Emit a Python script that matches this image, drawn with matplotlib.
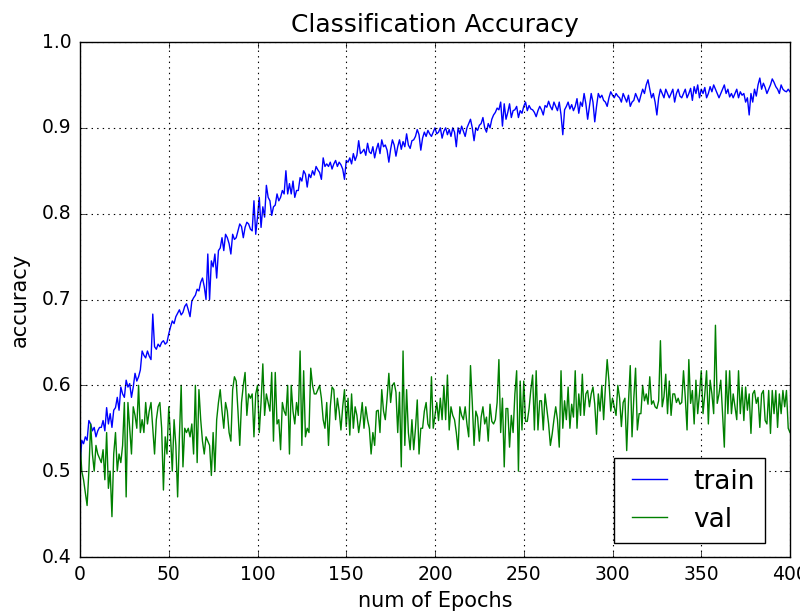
import matplotlib
matplotlib.use("Agg")
import matplotlib.pyplot as plt

# per-epoch accuracy (epochs 0..400)
train_acc = [
    0.505, 0.536, 0.532, 0.54, 0.536, 0.559, 0.555, 0.547, 0.551, 0.54, 0.547, 0.551, 0.551, 0.559, 0.547, 0.574, 0.555, 0.567, 0.551, 0.571,
    0.574, 0.586, 0.571, 0.598, 0.59, 0.586, 0.606, 0.598, 0.602, 0.586, 0.598, 0.614, 0.605, 0.61, 0.618, 0.64, 0.635, 0.632, 0.64, 0.634,
    0.63, 0.683, 0.645, 0.642, 0.648, 0.645, 0.65, 0.652, 0.648, 0.65, 0.66, 0.668, 0.675, 0.672, 0.68, 0.684, 0.688, 0.682, 0.685, 0.692,
    0.695, 0.688, 0.68, 0.698, 0.702, 0.705, 0.712, 0.71, 0.72, 0.725, 0.715, 0.7, 0.753, 0.7, 0.745, 0.738, 0.753, 0.725, 0.757, 0.76,
    0.772, 0.757, 0.776, 0.772, 0.765, 0.753, 0.776, 0.77, 0.772, 0.78, 0.788, 0.785, 0.772, 0.784, 0.79, 0.788, 0.782, 0.78, 0.815, 0.776,
    0.796, 0.819, 0.784, 0.808, 0.796, 0.833, 0.819, 0.815, 0.798, 0.808, 0.81, 0.823, 0.815, 0.819, 0.827, 0.823, 0.85, 0.823, 0.835, 0.823,
    0.838, 0.819, 0.827, 0.827, 0.842, 0.838, 0.85, 0.846, 0.831, 0.846, 0.842, 0.85, 0.845, 0.855, 0.851, 0.848, 0.84, 0.865, 0.855, 0.858,
    0.855, 0.86, 0.852, 0.858, 0.862, 0.855, 0.86, 0.857, 0.852, 0.84, 0.862, 0.86, 0.865, 0.858, 0.87, 0.862, 0.868, 0.885, 0.87, 0.872,
    0.875, 0.868, 0.882, 0.872, 0.87, 0.878, 0.865, 0.875, 0.882, 0.87, 0.886, 0.878, 0.88, 0.874, 0.86, 0.875, 0.886, 0.88, 0.867, 0.878,
    0.886, 0.875, 0.884, 0.878, 0.893, 0.88, 0.876, 0.885, 0.886, 0.89, 0.898, 0.892, 0.874, 0.888, 0.895, 0.89, 0.897, 0.893, 0.89, 0.895,
    0.9, 0.893, 0.895, 0.9, 0.888, 0.896, 0.9, 0.892, 0.898, 0.89, 0.9, 0.895, 0.878, 0.9, 0.893, 0.902, 0.896, 0.89, 0.9, 0.905,
    0.91, 0.9, 0.885, 0.9, 0.897, 0.903, 0.905, 0.912, 0.9, 0.895, 0.905, 0.9, 0.91, 0.915, 0.918, 0.923, 0.921, 0.93, 0.902, 0.928,
    0.91, 0.918, 0.928, 0.912, 0.92, 0.921, 0.925, 0.912, 0.92, 0.917, 0.925, 0.93, 0.92, 0.926, 0.922, 0.921, 0.918, 0.913, 0.92, 0.925,
    0.921, 0.915, 0.926, 0.924, 0.931, 0.925, 0.921, 0.93, 0.925, 0.92, 0.93, 0.915, 0.892, 0.921, 0.925, 0.93, 0.922, 0.927, 0.92, 0.925,
    0.934, 0.917, 0.93, 0.925, 0.94, 0.928, 0.91, 0.925, 0.94, 0.93, 0.907, 0.925, 0.94, 0.935, 0.938, 0.932, 0.93, 0.925, 0.935, 0.942,
    0.938, 0.935, 0.94, 0.937, 0.935, 0.93, 0.94, 0.935, 0.93, 0.938, 0.925, 0.93, 0.932, 0.94, 0.935, 0.93, 0.938, 0.945, 0.94, 0.95,
    0.956, 0.945, 0.935, 0.94, 0.93, 0.915, 0.935, 0.945, 0.94, 0.935, 0.945, 0.94, 0.935, 0.94, 0.945, 0.93, 0.94, 0.945, 0.937, 0.935,
    0.94, 0.945, 0.935, 0.94, 0.946, 0.932, 0.948, 0.94, 0.95, 0.935, 0.945, 0.94, 0.947, 0.935, 0.94, 0.948, 0.942, 0.95, 0.945, 0.94,
    0.935, 0.94, 0.945, 0.95, 0.94, 0.945, 0.936, 0.94, 0.935, 0.94, 0.945, 0.935, 0.942, 0.938, 0.94, 0.93, 0.935, 0.915, 0.94, 0.93,
    0.945, 0.937, 0.95, 0.958, 0.945, 0.952, 0.947, 0.94, 0.945, 0.95, 0.957, 0.953, 0.948, 0.945, 0.94, 0.95, 0.945, 0.943, 0.942, 0.945,
    0.942,
]
val_acc = [
    0.535, 0.5, 0.49, 0.475, 0.46, 0.5, 0.555, 0.52, 0.5, 0.53, 0.52, 0.515, 0.51, 0.525, 0.49, 0.545, 0.48, 0.5, 0.447, 0.52,
    0.545, 0.5, 0.52, 0.51, 0.53, 0.58, 0.47, 0.58, 0.55, 0.52, 0.575, 0.565, 0.55, 0.6, 0.545, 0.56, 0.545, 0.58, 0.555, 0.57,
    0.58, 0.55, 0.52, 0.56, 0.575, 0.58, 0.55, 0.478, 0.54, 0.52, 0.575, 0.54, 0.5, 0.56, 0.53, 0.47, 0.54, 0.6, 0.505, 0.55,
    0.545, 0.55, 0.54, 0.555, 0.52, 0.6, 0.51, 0.595, 0.56, 0.535, 0.52, 0.54, 0.535, 0.53, 0.495, 0.545, 0.5, 0.56, 0.58, 0.595,
    0.57, 0.55, 0.58, 0.57, 0.545, 0.535, 0.595, 0.61, 0.605, 0.57, 0.53, 0.58, 0.6, 0.615, 0.565, 0.59, 0.585, 0.59, 0.54, 0.59,
    0.6, 0.545, 0.58, 0.625, 0.565, 0.59, 0.58, 0.57, 0.615, 0.535, 0.615, 0.555, 0.56, 0.525, 0.58, 0.57, 0.565, 0.6, 0.52, 0.6,
    0.57, 0.555, 0.58, 0.565, 0.64, 0.53, 0.617, 0.54, 0.55, 0.545, 0.62, 0.6, 0.59, 0.59, 0.595, 0.6, 0.585, 0.56, 0.55, 0.58,
    0.53, 0.575, 0.598, 0.595, 0.56, 0.585, 0.57, 0.548, 0.575, 0.595, 0.552, 0.585, 0.542, 0.59, 0.55, 0.575, 0.565, 0.545, 0.56, 0.58,
    0.55, 0.575, 0.56, 0.55, 0.52, 0.545, 0.53, 0.57, 0.571, 0.545, 0.595, 0.57, 0.56, 0.585, 0.614, 0.58, 0.6, 0.603, 0.592, 0.545,
    0.592, 0.505, 0.64, 0.53, 0.595, 0.545, 0.525, 0.56, 0.525, 0.55, 0.583, 0.52, 0.55, 0.55, 0.57, 0.58, 0.555, 0.55, 0.61, 0.55,
    0.565, 0.58, 0.559, 0.585, 0.56, 0.6, 0.56, 0.612, 0.548, 0.575, 0.565, 0.56, 0.545, 0.525, 0.575, 0.565, 0.56, 0.575, 0.555, 0.54,
    0.623, 0.58, 0.53, 0.57, 0.563, 0.535, 0.563, 0.575, 0.555, 0.563, 0.535, 0.578, 0.558, 0.555, 0.56, 0.58, 0.63, 0.545, 0.585, 0.505,
    0.573, 0.573, 0.528, 0.565, 0.545, 0.59, 0.617, 0.5, 0.605, 0.548, 0.605, 0.558, 0.558, 0.573, 0.595, 0.612, 0.548, 0.617, 0.548, 0.582,
    0.582, 0.548, 0.59, 0.573, 0.555, 0.53, 0.543, 0.56, 0.575, 0.56, 0.528, 0.617, 0.55, 0.582, 0.56, 0.598, 0.55, 0.578, 0.563, 0.617,
    0.55, 0.59, 0.565, 0.613, 0.565, 0.59, 0.594, 0.575, 0.59, 0.598, 0.578, 0.543, 0.59, 0.57, 0.6, 0.56, 0.598, 0.63, 0.605, 0.57,
    0.585, 0.575, 0.565, 0.6, 0.585, 0.552, 0.58, 0.585, 0.524, 0.58, 0.623, 0.54, 0.585, 0.62, 0.548, 0.567, 0.567, 0.6, 0.582, 0.59,
    0.578, 0.61, 0.578, 0.582, 0.575, 0.573, 0.582, 0.652, 0.575, 0.587, 0.613, 0.567, 0.605, 0.565, 0.59, 0.59, 0.58, 0.585, 0.578, 0.58,
    0.617, 0.586, 0.548, 0.63, 0.579, 0.594, 0.555, 0.606, 0.567, 0.59, 0.617, 0.567, 0.59, 0.617, 0.555, 0.606, 0.59, 0.567, 0.67, 0.579,
    0.59, 0.606, 0.567, 0.528, 0.617, 0.567, 0.617, 0.567, 0.59, 0.575, 0.56, 0.617, 0.567, 0.598, 0.559, 0.598, 0.571, 0.59, 0.544, 0.59,
    0.594, 0.579, 0.586, 0.551, 0.59, 0.594, 0.559, 0.555, 0.594, 0.544, 0.594, 0.567, 0.594, 0.551, 0.59, 0.567, 0.594, 0.575, 0.594, 0.55,
    0.545,
]
epochs = list(range(len(train_acc)))

plt.style.use("classic")
fig = plt.figure(figsize=(8.0, 6.15), dpi=100)
ax = fig.add_axes([0.1, 0.0943, 0.8875, 0.8374])
ax.plot(epochs, train_acc, color="b", lw=1.0, label="train")
ax.plot(epochs, val_acc, color="g", lw=1.0, label="val")
ax.set_xlim(0, 400)
ax.set_ylim(0.4, 1.0)
ax.grid(True, ls=":", color="k", lw=0.8)
ax.tick_params(labelsize=13.5, pad=6)
ax.set_xlabel("num of Epochs", fontsize=15, labelpad=5)
ax.set_ylabel("accuracy", fontsize=15, labelpad=9)
ax.set_title("Classification Accuracy", fontsize=18, y=1.005)
ax.legend(loc="lower right", bbox_to_anchor=(0.965, 0.027), fontsize=19,
          frameon=True, fancybox=False, handlelength=1.9, labelspacing=0.45,
          borderpad=0.4, handletextpad=0.7, borderaxespad=0)
fig.savefig("out.png", dpi=100, facecolor="white")
